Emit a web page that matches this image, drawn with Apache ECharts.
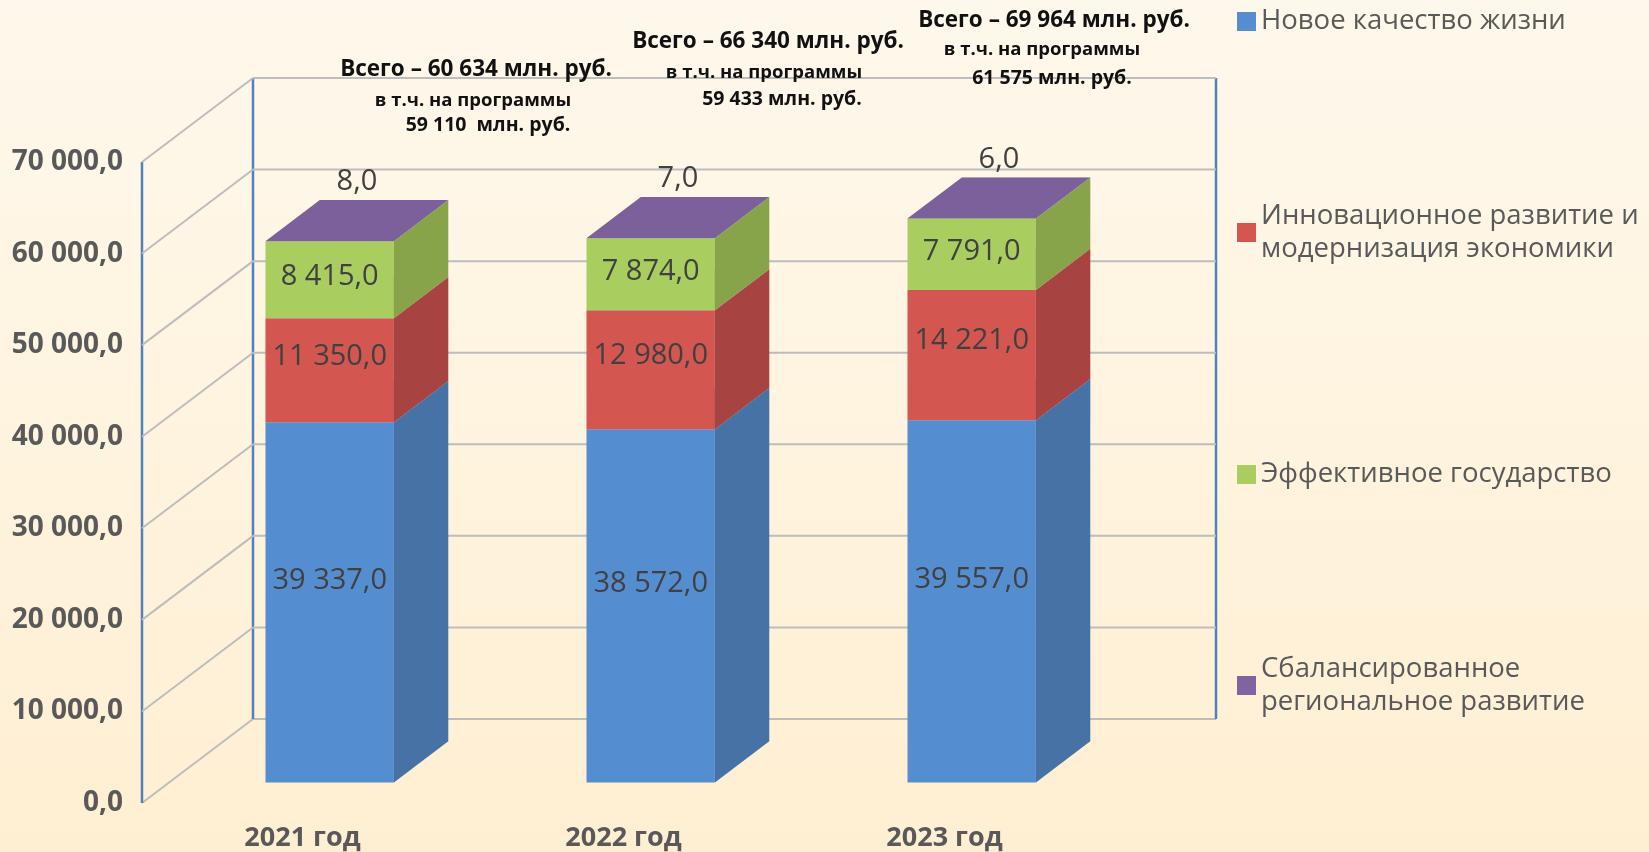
<!DOCTYPE html>
<html>
<head>
<meta charset="utf-8">
<title>Программные расходы 2021-2023</title>
<script src="https://cdn.jsdelivr.net/npm/echarts@6/dist/echarts.min.js"></script>
<style>
  html, body { margin: 0; padding: 0; }
  #chart { width: 1649px; height: 852px; }
</style>
</head>
<body>
<div id="chart"></div>
<script>
// данные
var years = ['2021 год', '2022 год', '2023 год'];
var seriesNames = [
    'Новое качество жизни',
    'Инновационное развитие и\nмодернизация экономики',
    'Эффективное государство',
    'Сбалансированное\nрегиональное развитие'
];
var qualityLife = [39337, 38572, 39557];
var innovation = [11350, 12980, 14221];
var effectiveGov = [8415, 7874, 7791];
var regional = [8, 7, 6];
var totals = [60634, 66340, 69964];
var programs = [59110, 59433, 61575];
var yTicks = [0, 10000, 20000, 30000, 40000, 50000, 60000, 70000];

var FONT = '"Open Sans", "DejaVu Sans", sans-serif';
var DEPTH = [111, -84];      // смещение задней стенки, px
var BAR_FRONT = 0.245;       // где начинается столбик по глубине
var BAR_DEPTH = 0.49;

function fmtNum(v, dec) {
    var s = v.toFixed(dec);
    var parts = s.split('.');
    var int = parts[0].replace(/\B(?=(\d{3})+(?!\d))/g, ' ');
    return parts.length > 1 ? int + ',' + parts[1] : int;
}

var chart = echarts.init(document.getElementById('chart'));

// стенки "3D" области
function renderWalls(params, api) {
    var cs = params.coordSys;
    var y = api.coord([0, api.value(1)])[1];
    var dx = DEPTH[0], dy = DEPTH[1];
    var gray = { stroke: '#bdbdbd', lineWidth: 2 };
    var children = [
        { type: 'line', shape: { x1: cs.x, y1: y, x2: cs.x + dx, y2: y + dy }, style: gray },
        { type: 'line', shape: { x1: cs.x + dx, y1: y + dy, x2: cs.x + cs.width + dx, y2: y + dy }, style: gray }
    ];
    if (params.dataIndex === 0) {
        var blue = { stroke: '#4f81bd', lineWidth: 2.5 };
        var top = cs.y, bot = cs.y + cs.height;
        children.push(
            { type: 'line', shape: { x1: cs.x, y1: top, x2: cs.x, y2: bot }, style: blue },
            { type: 'line', shape: { x1: cs.x + dx, y1: top + dy, x2: cs.x + dx, y2: bot + dy }, style: blue },
            { type: 'line', shape: { x1: cs.x + cs.width + dx, y1: top + dy, x2: cs.x + cs.width + dx, y2: bot + dy }, style: blue }
        );
    }
    return { type: 'group', children: children };
}

// объемный сегмент столбика
function makeBar(colors, labelDy, isTop) {
    return function (params, api) {
        var idx = api.value(0), base = api.value(1), val = api.value(2);
        var pb = api.coord([idx, base]);
        var pt = api.coord([idx, base + val]);
        var bw = api.size([1, 0])[0] * 0.4;
        var dx = DEPTH[0] * BAR_DEPTH, dy = DEPTH[1] * BAR_DEPTH;
        var x0 = pb[0] - bw / 2 + DEPTH[0] * BAR_FRONT;
        var x1 = x0 + bw;
        var yb = pb[1] + DEPTH[1] * BAR_FRONT;
        var yt = pt[1] + DEPTH[1] * BAR_FRONT;
        var children = [
            { type: 'polygon', shape: { points: [[x0, yb], [x1, yb], [x1, yt], [x0, yt]] }, style: { fill: colors[0] } },
            { type: 'polygon', shape: { points: [[x1, yb], [x1 + dx, yb + dy], [x1 + dx, yt + dy], [x1, yt]] }, style: { fill: colors[1] } },
            { type: 'polygon', shape: { points: [[x0, yt], [x1, yt], [x1 + dx, yt + dy], [x0 + dx, yt + dy]] }, style: { fill: colors[2] } }
        ];
        var lx = (x0 + x1) / 2, ly = (yb + yt) / 2 + labelDy;
        if (isTop) {
            lx = lx + dx / 2;
            ly = yt + dy - 18;
        }
        children.push({
            type: 'text',
            style: {
                text: fmtNum(val, 1), x: lx, y: ly, align: 'center', verticalAlign: 'middle',
                fill: '#404040', fontSize: 29, fontFamily: FONT
            }
        });
        return { type: 'group', children: children };
    };
}

var stacks = [qualityLife, innovation, effectiveGov, regional];
var palette = [
    ['#558ed0', '#4672a5', '#6e9ed8'],
    ['#d35651', '#a74442', '#e07a75'],
    ['#a9cd5f', '#88a44b', '#c0dc85'],
    ['#8064a2', '#65507f', '#7c609b']
];
var labelShift = [-22, -14, -3, 0];

var barSeries = stacks.map(function (vals, s) {
    var data = vals.map(function (v, i) {
        var base = 0;
        for (var k = 0; k < s; k++) base += stacks[k][i];
        return [i, base, v];
    });
    return {
        name: seriesNames[s],
        type: 'custom',
        renderItem: makeBar(palette[s], labelShift[s], s === stacks.length - 1),
        itemStyle: { color: palette[s][0] },
        encode: { x: 0, y: [1, 2] },
        data: data,
        z: 3
    };
});

// легенда: отдельный блок на каждый пункт
var legendTops = [5, 183, 458, 636];
var legends = seriesNames.map(function (n, i) {
    var twoLines = n.indexOf('\n') >= 0;
    return {
        data: [n],
        orient: 'vertical',
        left: 1237,
        top: legendTops[i],
        padding: 0,
        icon: 'rect',
        itemWidth: 19,
        itemHeight: 19,
        itemGap: 0,
        selectedMode: false,
        textStyle: {
            fontSize: 27.5,
            color: '#595959',
            fontFamily: FONT,
            lineHeight: 33,
            padding: twoLines ? [33, 0, 0, 0] : 0
        }
    };
});

// подписи над столбиками
var notePos = [
    [[476, 70], [473, 101], [488, 125]],
    [[768, 42], [764, 73], [782, 99]],
    [[1054, 21], [1042, 50], [1052, 78]]
];
var notes = [];
totals.forEach(function (t, i) {
    var lines = [
        ['Всего – ' + fmtNum(t, 0) + ' млн. руб.', 22.5],
        ['в т.ч. на программы', 18.5],
        [fmtNum(programs[i], 0) + (i === 0 ? '  ' : ' ') + 'млн. руб.', 19.5]
    ];
    lines.forEach(function (ln, j) {
        notes.push({
            type: 'text',
            x: notePos[i][j][0],
            y: notePos[i][j][1],
            z: 10,
            style: {
                text: ln[0], align: 'center', verticalAlign: 'middle',
                fill: '#111', fontSize: ln[1], fontWeight: 'bold', fontFamily: FONT
            }
        });
    });
});

option = {
    backgroundColor: new echarts.graphic.LinearGradient(0, 0, 0, 1, [
        { offset: 0, color: '#fef8ec' },
        { offset: 1, color: '#ffefd2' }
    ]),
    animation: false,
    legend: legends,
    grid: { left: 142, right: 544, top: 162, bottom: 49, containLabel: false },
    xAxis: {
        type: 'category',
        data: years,
        axisLine: { show: false },
        axisTick: { show: false },
        axisLabel: { margin: 22, fontSize: 27, fontWeight: 'bold', color: '#595959', fontFamily: FONT }
    },
    yAxis: {
        type: 'value',
        min: 0,
        max: 70000,
        interval: 10000,
        axisLine: { show: false },
        axisTick: { show: false },
        splitLine: { show: false },
        axisLabel: {
            margin: 19, fontSize: 28, fontWeight: 'bold', color: '#595959', fontFamily: FONT,
            formatter: function (v) { return fmtNum(v, 1); }
        }
    },
    graphic: notes,
    series: [{
        type: 'custom',
        name: 'walls',
        renderItem: renderWalls,
        encode: { x: 0, y: 1 },
        data: yTicks.map(function (v) { return [0, v]; }),
        silent: true,
        z: 1
    }].concat(barSeries)
};

chart.setOption(option);
</script>
</body>
</html>
